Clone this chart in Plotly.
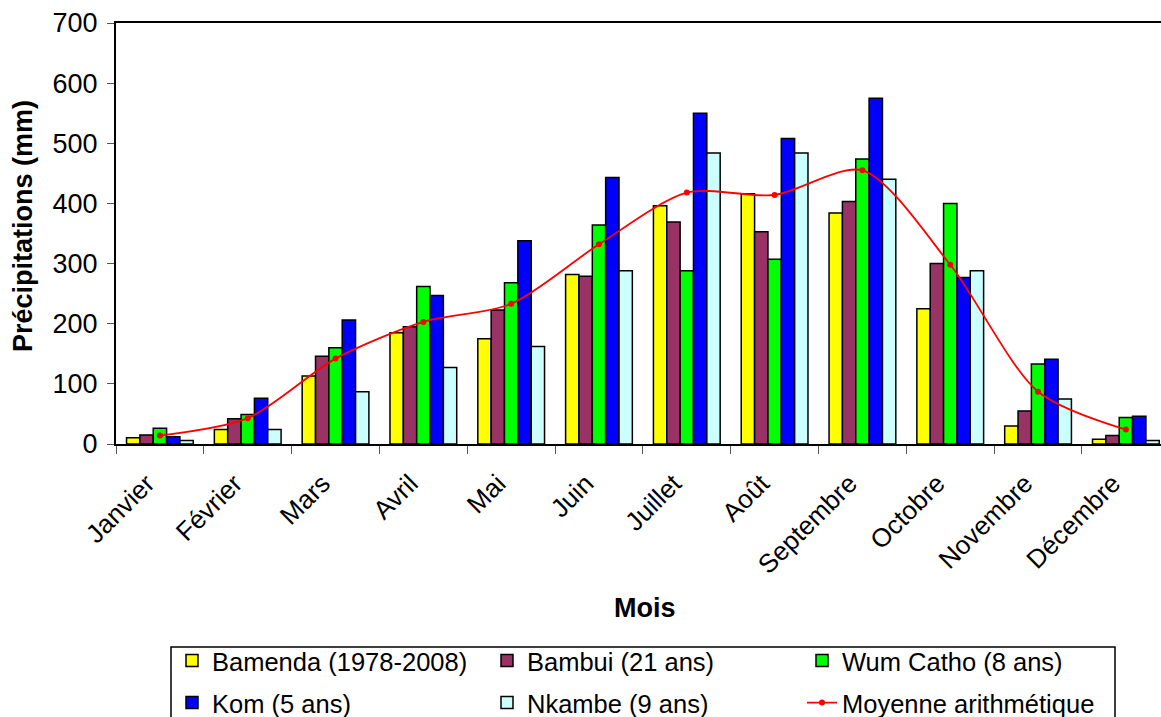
import plotly.graph_objects as go

months = ["Janvier", "Février", "Mars", "Avril", "Mai", "Juin", "Juillet",
          "Août", "Septembre", "Octobre", "Novembre", "Décembre"]

bamenda = [10.5, 24, 113, 185, 175, 282, 396, 416, 384, 225, 30, 8]
bambui = [15, 42, 146, 195, 223, 279, 369, 353, 403, 300, 55, 14]
wum = [26, 49, 160, 262, 268, 364, 288, 307, 474, 400, 133, 44]
kom = [12, 76, 206, 247, 338, 443, 550, 508, 575, 277, 141, 46]
nkambe = [6, 24, 87, 127, 162, 288, 484, 484, 440, 288, 75, 6]
moyenne = [14, 43, 142, 203, 233, 332, 418, 414, 455, 298, 87, 24]

series = [
    ("Bamenda (1978-2008)", bamenda, "#FFFF00", "legend"),
    ("Bambui (21 ans)", bambui, "#993366", "legend"),
    ("Wum Catho (8 ans)", wum, "#00FF00", "legend"),
    ("Kom (5 ans)", kom, "#0000FF", "legend2"),
    ("Nkambe (9 ans)", nkambe, "#CCFFFF", "legend2"),
]

FONT = "Liberation Sans, Arial, sans-serif"
fig = go.Figure()
for name, vals, col, lg in series:
    fig.add_trace(go.Bar(
        x=months, y=vals, name=name, legend=lg,
        marker=dict(color=col, line=dict(color="black", width=1.5)),
    ))

fig.add_trace(go.Scatter(
    x=months, y=moyenne, name="Moyenne arithmétique", legend="legend2",
    mode="lines+markers",
    line=dict(color="#FF0000", width=1.8, shape="spline", smoothing=0.8),
    marker=dict(color="#FF0000", size=6),
))

W, H = 1161, 717
L, T, B, R = 116, 23, 273, 0
pw = W - L - R
ph = H - T - B

def px(x):
    return (x - L) / pw

def py(y):
    return (H - B - y) / ph

def cy(y):
    return (H - y) / H

leg_common = dict(orientation="h", xref="paper", yref="container",
                  xanchor="left", yanchor="middle",
                  entrywidth=270, entrywidthmode="pixels", borderwidth=0,
                  font=dict(size=25.5), itemwidth=30, bgcolor="rgba(0,0,0,0)")

fig.update_layout(
    width=W, height=H,
    margin=dict(l=L, r=R, t=T, b=B),
    paper_bgcolor="white", plot_bgcolor="white",
    font=dict(family=FONT, size=22, color="black"),
    barmode="group", bargap=0.24, bargroupgap=0,
    showlegend=True,
    legend=dict(x=px(172), y=cy(661), **leg_common),
    legend2=dict(x=px(172), y=cy(703), **leg_common),
    xaxis=dict(
        type="category", range=[-0.5, 11.4],
        showline=True, linecolor="black", linewidth=2, mirror=True,
        ticks="outside", tickson="boundaries", ticklen=8, tickcolor="#555",
        tickangle=-45, tickfont=dict(size=26), ticklabelstandoff=12,
        ticklabelshift=-13,
        showgrid=False,
    ),
    yaxis=dict(
        range=[0, 700], dtick=100, tick0=0,
        showline=True, linecolor="black", linewidth=2,
        ticks="outside", ticklen=7, tickcolor="#555",
        tickfont=dict(size=27), ticklabelstandoff=4,
        showgrid=False, zeroline=False,
    ),
    shapes=[dict(type="rect", xref="paper", yref="paper",
                 x0=px(171), x1=px(1115), y0=py(647), y1=py(730),
                 line=dict(color="black", width=1.5), fillcolor="rgba(0,0,0,0)")],
    annotations=[
        dict(text="<b>Mois</b>", xref="paper", yref="paper", x=px(645), y=py(608),
             xanchor="center", yanchor="middle", showarrow=False, font=dict(size=27)),
        dict(text="<b>Précipitations (mm)</b>", xref="paper", yref="paper",
             x=px(23), y=py(226), xanchor="center", yanchor="middle",
             textangle=-90, showarrow=False, font=dict(size=27)),
    ],
)

fig.write_html("out.html")
